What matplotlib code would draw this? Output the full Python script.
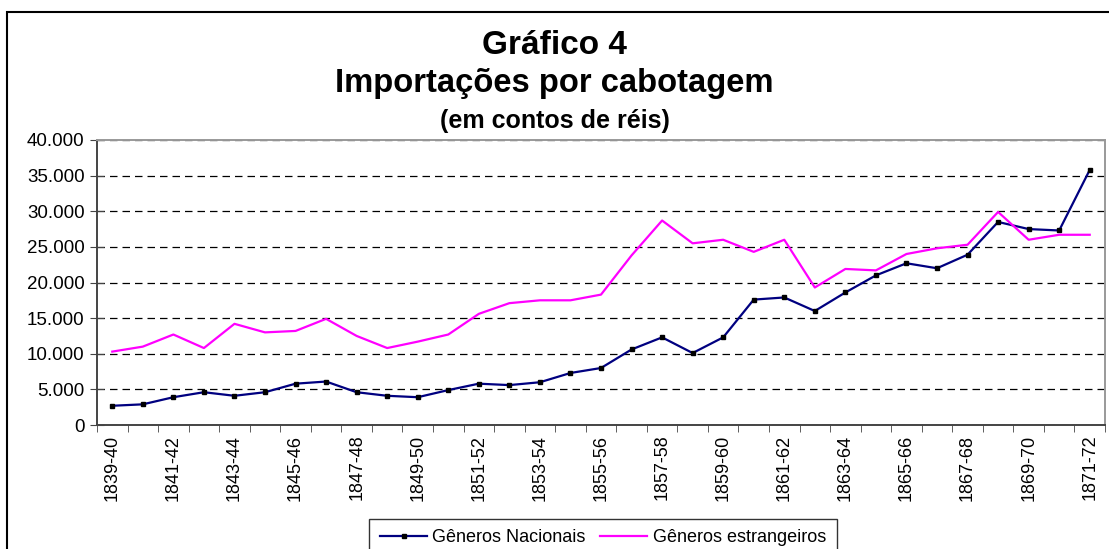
import matplotlib.pyplot as plt
from matplotlib.patches import Rectangle
from matplotlib.ticker import FuncFormatter

plt.rcParams["font.family"] = ["Liberation Sans", "DejaVu Sans"]

# Safra years (1839-40 ... 1871-72)
years = [f"{y}-{str(y + 1)[-2:]}" for y in range(1839, 1872)]

# Values in contos de réis
nacionais = [2700, 2900, 3900, 4600, 4100, 4600, 5800, 6100, 4600, 4100,
             3900, 4900, 5800, 5600, 6000, 7300, 8000, 10600, 12300, 10100,
             12300, 17600, 17900, 16000, 18600, 21000, 22700, 22000, 23900,
             28500, 27500, 27300, 35800]
estrangeiros = [10300, 11000, 12700, 10800, 14200, 13000, 13200, 14900, 12500,
                10800, 11700, 12700, 15600, 17100, 17500, 17500, 18300, 23800,
                28700, 25500, 26000, 24300, 26000, 19300, 21900, 21700, 24000,
                24800, 25300, 29900, 26000, 26700, 26700]

W, H = 1109, 549
fig = plt.figure(figsize=(W / 100, H / 100), dpi=100)
ax = fig.add_axes([97 / W, 1 - 425 / H, (1105 - 97) / W, (425 - 140) / H])

x = list(range(len(years)))
ax.plot(x, nacionais, color="#000080", lw=1.6, marker="s", ms=2.3,
        mfc="black", mec="black", label="Gêneros Nacionais", zorder=3)
ax.plot(x, estrangeiros, color="#FF00FF", lw=1.6, label="Gêneros estrangeiros",
        zorder=3)

ax.set_xlim(-0.5, len(years) - 0.5)
ax.set_ylim(0, 40000)
ax.set_yticks(range(0, 40001, 5000))
ax.yaxis.set_major_formatter(FuncFormatter(lambda v, p: f"{int(v):,}".replace(",", ".")))
ax.yaxis.grid(True, linestyle=(0, (6, 4)), color="black", lw=0.9)
ax.set_axisbelow(True)

ax.set_xticks(x[::2])
ax.set_xticklabels(years[::2], rotation=90)
ax.set_xticks([i - 0.5 for i in range(len(years) + 1)], minor=True)
ax.tick_params(axis="x", which="major", length=0, pad=7, labelsize=13)
ax.tick_params(axis="x", which="minor", length=5, direction="out", color="#444444")
ax.tick_params(axis="y", length=10, direction="inout", labelsize=13.5, pad=4,
               color="#444444")

for side in ["left", "bottom"]:
    ax.spines[side].set_color("#444444")
    ax.spines[side].set_linewidth(1.4)
for side in ["top", "right"]:
    ax.spines[side].set_color("#999999")
    ax.spines[side].set_linewidth(1.4)

fig.text(0.5, 1 - 45 / H, "Gráfico 4", ha="center", va="center",
         fontsize=24, fontweight="bold")
fig.text(0.5, 1 - 84 / H, "Importações por cabotagem", ha="center", va="center",
         fontsize=23.6, fontweight="bold")
fig.text(0.5, 1 - 121 / H, "(em contos de réis)", ha="center", va="center",
         fontsize=18, fontweight="bold")

leg = ax.legend(loc="center", bbox_to_anchor=(603 / W, 1 - 538 / H),
                bbox_transform=fig.transFigure, ncol=2, frameon=True,
                fancybox=False, edgecolor="black", fontsize=13,
                handlelength=2.6, handletextpad=0.3, columnspacing=0.8,
                borderpad=0.6)
leg.get_frame().set_linewidth(1.0)

# outer chart frame
fig.patches.append(Rectangle((7 / W, -0.1), 1.2, 1 - 12 / H + 0.1,
                             transform=fig.transFigure, fill=False,
                             edgecolor="black", lw=1.5))

fig.savefig("out.png", dpi=100)
